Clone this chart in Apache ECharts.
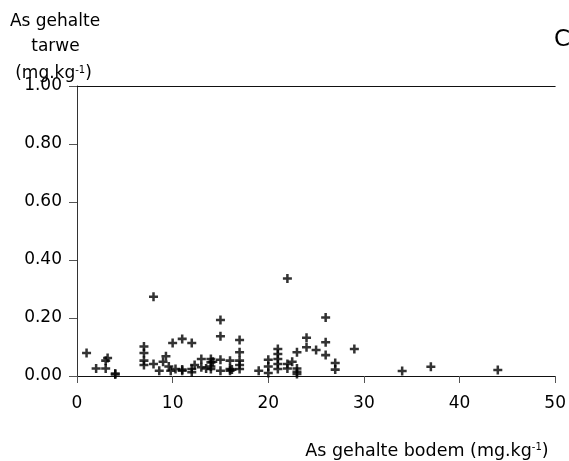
<!DOCTYPE html>
<html>
<head>
<meta charset="utf-8">
<script src="https://cdn.jsdelivr.net/npm/echarts@6/dist/echarts.min.js"></script>
<style>
  html, body { margin: 0; padding: 0; background: #fff; }
  #chart { width: 569px; height: 461px; }
</style>
</head>
<body>
<div id="chart"></div>
<script>
// As gehalte bodem (x) tegen As gehalte tarwe (y), beide in mg/kg
const bodemAs = [
  1, 2, 3, 3, 3.2, 4, 4,
  7, 7, 7, 7, 8, 8, 8.6, 9, 9.3, 9.6, 9.8,
  10, 10.3, 11, 11, 11, 12, 12, 12.3, 12,
  13, 13, 13.5, 14, 14, 14, 14, 14.2,
  15, 15, 15, 15, 16, 16, 16.2, 16,
  17, 17, 17, 17, 17, 19, 20, 20, 20,
  21, 21, 21, 21, 21, 22, 22, 22, 22.5,
  23, 23, 23, 23, 24, 24, 25, 26, 26, 26,
  27, 27, 29, 34, 37, 44
];
const tarweAs = [
  0.079, 0.026, 0.026, 0.053, 0.062, 0.009, 0.005,
  0.102, 0.079, 0.053, 0.038, 0.273, 0.041, 0.018, 0.049, 0.068, 0.033, 0.018,
  0.114, 0.024, 0.128, 0.022, 0.018, 0.114, 0.013, 0.038, 0.024,
  0.059, 0.030, 0.026, 0.059, 0.047, 0.033, 0.024, 0.049,
  0.193, 0.137, 0.056, 0.018, 0.053, 0.024, 0.022, 0.018,
  0.124, 0.082, 0.053, 0.038, 0.024, 0.018, 0.056, 0.033, 0.010,
  0.093, 0.076, 0.059, 0.041, 0.024, 0.336, 0.041, 0.026, 0.049,
  0.082, 0.026, 0.015, 0.007, 0.132, 0.099, 0.090, 0.202, 0.116, 0.072,
  0.045, 0.022, 0.093, 0.017, 0.032, 0.021
];
const xTicks = [0, 10, 20, 30, 40, 50];
const yTicks = [0, 0.2, 0.4, 0.6, 0.8, 1.0];

const font = '"DejaVu Sans", Verdana, sans-serif';
const plus = 'path://M3.6,0H6.4V3.6H10V6.4H6.4V10H3.6V6.4H0V3.6H3.6Z';
const sup = { fontSize: 10, fontFamily: font, verticalAlign: 'top', padding: [0, 0, 8, 0] };

var chart = echarts.init(document.getElementById('chart'), null, { renderer: 'canvas' });

chart.setOption({
  animation: false,
  grid: { left: 77, right: 11, top: 86, bottom: 85 },
  xAxis: [{
    type: 'value',
    min: xTicks[0], max: xTicks[xTicks.length - 1], interval: 10,
    axisLine: { lineStyle: { color: '#111', width: 1 } },
    axisTick: { show: true, length: 7, lineStyle: { color: '#555' } },
    axisLabel: { color: '#000', fontSize: 17, fontFamily: font, margin: 19 },
    splitLine: { show: false }
  }, {
    // bovenlijn van het plotvlak
    type: 'value', position: 'top',
    min: xTicks[0], max: xTicks[xTicks.length - 1],
    axisLine: { show: true, onZero: false, lineStyle: { color: '#111', width: 1 } },
    axisTick: { show: false }, axisLabel: { show: false }, splitLine: { show: false }
  }],
  yAxis: {
    type: 'value',
    min: yTicks[0], max: yTicks[yTicks.length - 1], interval: 0.2,
    axisLine: { show: true, lineStyle: { color: '#333', width: 1 } },
    axisTick: { show: true, length: 8, lineStyle: { color: '#555' } },
    axisLabel: {
      color: '#000', fontSize: 17, fontFamily: font, margin: 15,
      formatter: v => v.toFixed(2)
    },
    splitLine: { show: false }
  },
  series: [{
    type: 'scatter',
    xAxisIndex: 0,
    symbol: plus,
    symbolSize: 9,
    itemStyle: { color: '#000' },
    data: bodemAs.map((x, i) => [x, tarweAs[i]])
  }],
  graphic: [
    {
      type: 'text', x: 55, y: 22,
      style: { text: 'As gehalte', fill: '#000', font: '17px ' + font, align: 'center', verticalAlign: 'middle' }
    },
    {
      type: 'text', x: 55.5, y: 47,
      style: { text: 'tarwe', fill: '#000', font: '17px ' + font, align: 'center', verticalAlign: 'middle' }
    },
    {
      type: 'text', x: 53.5, y: 74,
      style: {
        text: '(mg.kg{s|-1})', fill: '#000', font: '17px ' + font,
        align: 'center', verticalAlign: 'middle', rich: { s: sup }
      }
    },
    {
      type: 'text', x: 427, y: 451,
      style: {
        text: 'As gehalte bodem (mg.kg{s|-1})', fill: '#000', font: '17.5px ' + font,
        align: 'center', verticalAlign: 'middle', rich: { s: sup }
      }
    },
    {
      type: 'text', x: 554, y: 40,
      style: { text: 'C', fill: '#000', font: '23px ' + font, align: 'left', verticalAlign: 'middle' }
    }
  ]
});
</script>
</body>
</html>
